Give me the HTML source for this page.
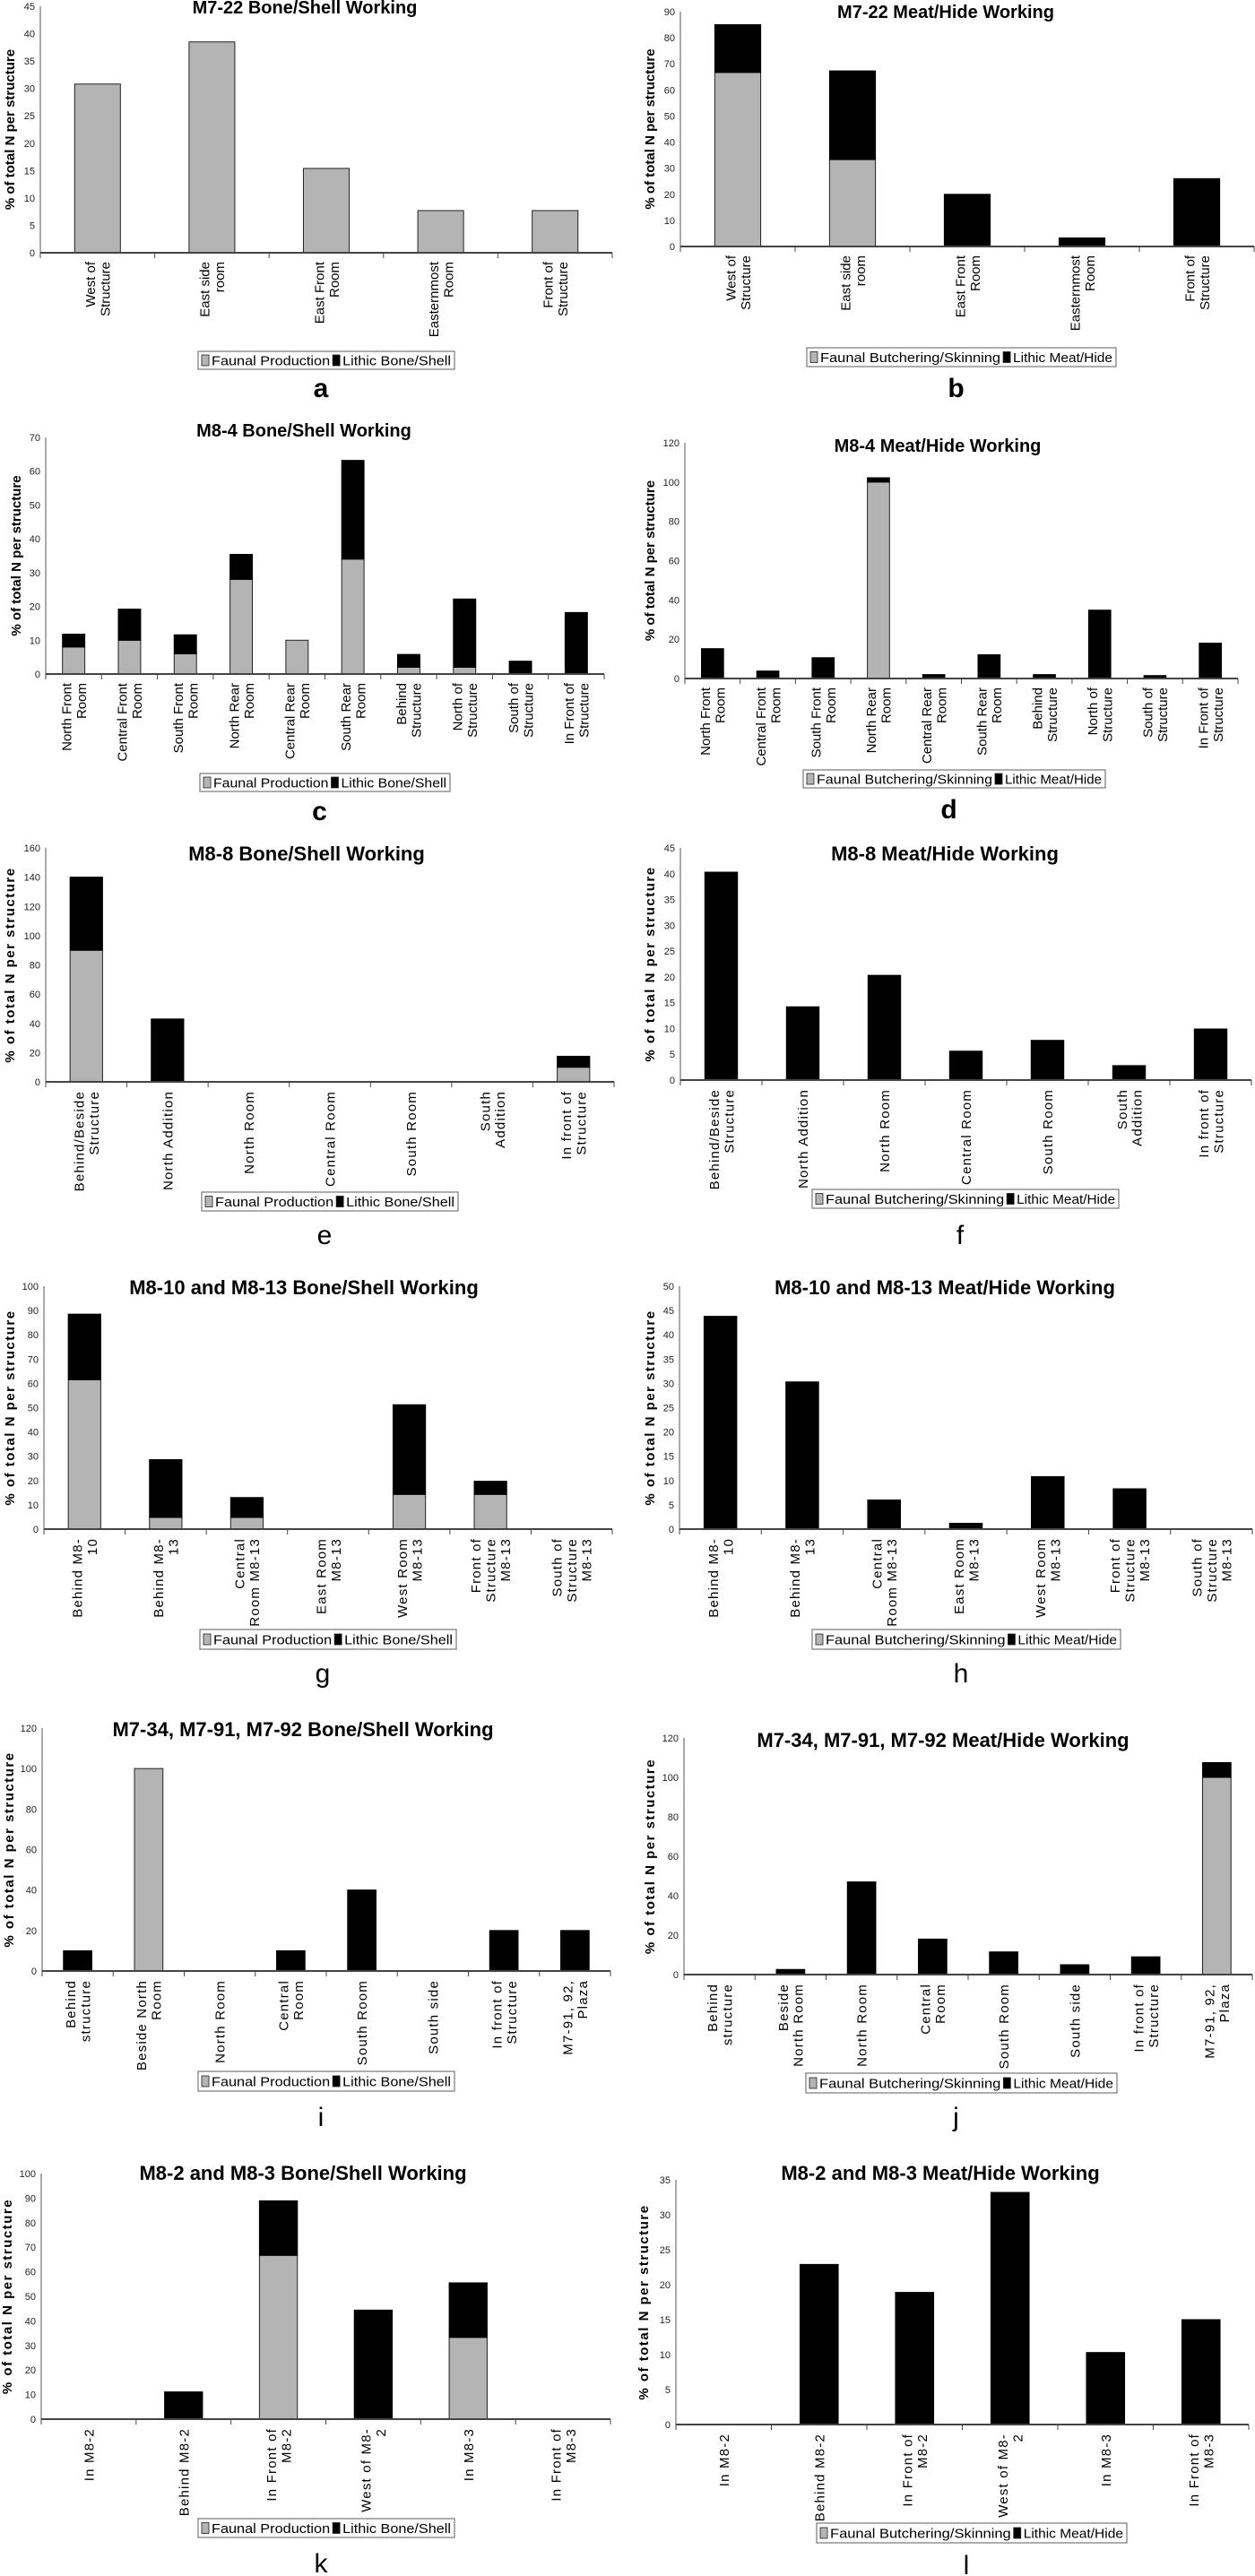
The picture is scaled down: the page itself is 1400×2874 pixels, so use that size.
<!DOCTYPE html>
<html><head><meta charset="utf-8"><title>Bone/Shell and Meat/Hide Working charts</title>
<style>
html,body{margin:0;padding:0;background:#fff;}
svg{display:block;}
text{font-family:"Liberation Sans",Arial,sans-serif;}
</style></head>
<body>
<svg id="fig" width="1400" height="2874" viewBox="0 0 1400 2874" xmlns="http://www.w3.org/2000/svg"></svg>
<script>
// ---------- DATA ----------
const catsA = ["West of|Structure","East side|room","East Front|Room","Easternmost|Room","Front of|Structure"];
const faunalA = [30.8,38.5,15.4,7.7,7.7];
const lithicA = [0,0,0,0,0];
const ticksA = [0,5,10,15,20,25,30,35,40,45];

const catsB = ["West of|Structure","East side|room","East Front|Room","Easternmost|Room","Front of|Structure"];
const faunalB = [66.7,33.3,0,0,0];
const lithicB = [18.3,34,20,3.3,26];
const ticksB = [0,10,20,30,40,50,60,70,80,90];

const catsC = ["North Front|Room","Central Front|Room","South Front|Room","North Rear|Room","Central Rear|Room","South Rear|Room","Behind|Structure","North of|Structure","South of|Structure","In Front of|Structure"];
const faunalC = [8,10,6,28,10,34,2,2,0,0];
const lithicC = [3.8,9.2,5.6,7.4,0,29.2,3.8,20.2,3.8,18.2];
const ticksC = [0,10,20,30,40,50,60,70];

const catsD = ["North Front|Room","Central Front|Room","South Front|Room","North Rear|Room","Central Rear|Room","South Rear|Room","Behind|Structure","North of|Structure","South of|Structure","In Front of|Structure"];
const faunalD = [0,0,0,100,0,0,0,0,0,0];
const lithicD = [15.2,3.8,10.6,2.2,2,12.1,2,34.8,1.5,18];
const ticksD = [0,20,40,60,80,100,120];

const catsE = ["Behind/Beside|Structure","North Addition","North Room","Central Room","South Room","South|Addition","In front of|Structure"];
const faunalE = [90,0,0,0,0,0,10];
const lithicE = [50,43,0,0,0,0,7.5];
const ticksE = [0,20,40,60,80,100,120,140,160];

const catsF = ["Behind/Beside|Structure","North Addition","North Room","Central Room","South Room","South|Addition","In front of|Structure"];
const faunalF = [0,0,0,0,0,0,0];
const lithicF = [40.3,14.2,20.3,5.6,7.7,2.8,9.9];
const ticksF = [0,5,10,15,20,25,30,35,40,45];

const catsG = ["Behind M8-|10","Behind M8-|13","Central|Room M8-13","East Room|M8-13","West Room|M8-13","Front of|Structure|M8-13","South of|Structure|M8-13"];
const faunalG = [61.5,4.8,4.8,0,14.3,14.3,0];
const lithicG = [27,23.8,8.2,0,36.9,5.4,0];
const ticksG = [0,10,20,30,40,50,60,70,80,90,100];

const catsH = ["Behind M8-|10","Behind M8-|13","Central|Room M8-13","East Room|M8-13","West Room|M8-13","Front of|Structure|M8-13","South of|Structure|M8-13"];
const faunalH = [0,0,0,0,0,0,0];
const lithicH = [43.8,30.3,6,1.2,10.8,8.3,0];
const ticksH = [0,5,10,15,20,25,30,35,40,45,50];

const catsI = ["Behind|structure","Beside North|Room","North Room","Central|Room","South Room","South side","In front of|Structure","M7-91, 92,|Plaza"];
const faunalI = [0,100,0,0,0,0,0,0];
const lithicI = [10,0,0,10,40,0,20,20];
const ticksI = [0,20,40,60,80,100,120];

const catsJ = ["Behind|structure","Beside|North Room","North Room","Central|Room","South Room","South side","In front of|Structure","M7-91, 92,|Plaza"];
const faunalJ = [0,0,0,0,0,0,0,100];
const lithicJ = [0,2.6,47,18,11.5,5,9,7.5];
const ticksJ = [0,20,40,60,80,100,120];

const catsK = ["In M8-2","Behind M8-2","In Front of|M8-2","West of M8-|2","In M8-3","In Front of|M8-3"];
const faunalK = [0,0,66.7,0,33.3,0];
const lithicK = [0,11.1,22.2,44.4,22.2,0];
const ticksK = [0,10,20,30,40,50,60,70,80,90,100];

const catsL = ["In M8-2","Behind M8-2","In Front of|M8-2","West of M8-|2","In M8-3","In Front of|M8-3"];
const faunalL = [0,0,0,0,0,0];
const lithicL = [0,22.9,18.9,33.2,10.3,15];
const ticksL = [0,5,10,15,20,25,30,35];

// ---------- LAYOUT ----------
const NS = "http://www.w3.org/2000/svg";
const svg = document.getElementById("fig");
function mk(tag, attrs, parent){
  const e = document.createElementNS(NS, tag);
  for (const k in attrs) e.setAttribute(k, attrs[k]);
  (parent||svg).appendChild(e);
  return e;
}
const panels = [
 {id:"a", title:"M7-22 Bone/Shell Working", cats:catsA, f:faunalA, l:lithicA, ticks:ticksA, L:45,R:683,T:7,Z:282, tx:340,ty:8, yx:11, lg:[221,507,392,412], ly:433, kind:"bone", narrow:false},
 {id:"b", title:"M7-22 Meat/Hide Working", cats:catsB, f:faunalB, l:lithicB, ticks:ticksB, L:759,R:1399,T:13,Z:275, tx:1055,ty:13, yx:725, lg:[900,1245,388,409], ly:433, kind:"meat", narrow:false},
 {id:"c", title:"M8-4 Bone/Shell Working", cats:catsC, f:faunalC, l:lithicC, ticks:ticksC, L:51,R:674,T:488,Z:752, tx:339,ty:480, yx:18, lg:[223,502,863,883], ly:905, kind:"bone", narrow:false},
 {id:"d", title:"M8-4 Meat/Hide Working", cats:catsD, f:faunalD, l:lithicD, ticks:ticksD, L:764,R:1381,T:494,Z:757, tx:1046,ty:497, yx:725, lg:[896,1233,859,879], ly:903, kind:"meat", narrow:false},
 {id:"e", title:"M8-8 Bone/Shell Working", cats:catsE, f:faunalE, l:lithicE, ticks:ticksE, L:51,R:685,T:946,Z:1207, tx:342,ty:953, yx:11, lg:[225,511,1330,1351], ly:1378, kind:"bone", narrow:true},
 {id:"f", title:"M8-8 Meat/Hide Working", cats:catsF, f:faunalF, l:lithicF, ticks:ticksF, L:759,R:1396,T:946,Z:1205, tx:1054,ty:953, yx:725, lg:[906,1248,1327,1348], ly:1378, kind:"meat", narrow:true},
 {id:"g", title:"M8-10 and M8-13 Bone/Shell Working", cats:catsG, f:faunalG, l:lithicG, ticks:ticksG, L:49,R:683,T:1435,Z:1706, tx:339,ty:1437, yx:11, lg:[223,509,1818,1840], ly:1867, kind:"bone", narrow:true},
 {id:"h", title:"M8-10 and M8-13 Meat/Hide Working", cats:catsH, f:faunalH, l:lithicH, ticks:ticksH, L:758,R:1397,T:1435,Z:1706, tx:1054,ty:1437, yx:725, lg:[906,1250,1818,1840], ly:1867, kind:"meat", narrow:true},
 {id:"i", title:"M7-34, M7-91, M7-92 Bone/Shell Working", cats:catsI, f:faunalI, l:lithicI, ticks:ticksI, L:47,R:681,T:1928,Z:2199, tx:338,ty:1930, yx:10, lg:[221,507,2311,2333], ly:2362, kind:"bone", narrow:true},
 {id:"j", title:"M7-34, M7-91, M7-92 Meat/Hide Working", cats:catsJ, f:faunalJ, l:lithicJ, ticks:ticksJ, L:763,R:1397,T:1939,Z:2203, tx:1052,ty:1942, yx:725, lg:[899,1246,2313,2335], ly:2362, kind:"meat", narrow:true},
 {id:"k", title:"M8-2 and M8-3 Bone/Shell Working", cats:catsK, f:faunalK, l:lithicK, ticks:ticksK, L:46,R:681,T:2425,Z:2699, tx:338,ty:2425, yx:8, lg:[221,507,2810,2831], ly:2860, kind:"bone", narrow:true},
 {id:"l", title:"M8-2 and M8-3 Meat/Hide Working", cats:catsL, f:faunalL, l:lithicL, ticks:ticksL, L:754,R:1393,T:2432,Z:2705, tx:1049,ty:2425, yx:718, lg:[911,1257,2815,2837], ly:2862, kind:"meat", narrow:true}
];
const NARROW = '"Liberation Sans Narrow","Liberation Sans",Arial,sans-serif';

panels.forEach(p => {
  const g = mk("g", {});
  
  
  const maxV = p.ticks[p.ticks.length-1];
  const y = v => p.Z - (v/maxV)*(p.Z - p.T);
  const n = p.cats.length;
  const cw = (p.R - p.L)/n;
  const xc = i => p.L + cw*(i+0.5);
  const bw = cw*0.4;

  // title
  const t = mk("text", {x:p.tx, y:p.ty+7, "text-anchor":"middle", "font-weight":"bold", "font-size": p.narrow?22:20}, g);
  if (p.narrow) t.setAttribute("style", "font-family:"+NARROW);
  
  
  t.textContent = p.title;

  // y axis title
  const ym = (p.T + p.Z)/2;
  const yt = mk("text", {x:p.yx+5, y:ym, "text-anchor":"middle", "font-weight":"bold", "font-size":15, transform:`rotate(-90 ${p.yx+5} ${ym})`}, g);
  if (p.narrow) yt.setAttribute("letter-spacing", "1.5");
  
  
  yt.textContent = "% of total N per structure";

  // y ticks
  p.ticks.forEach(tv => {
    const tl = mk("text", {x:p.L-6, y:y(tv)+4, "text-anchor":"end", "font-size":11, fill:"#222", style:"font-family:"+NARROW}, g);
    
    
    tl.textContent = tv;
  });
  // y axis
  const ya = mk("line", {x1:p.L, y1:p.T, x2:p.L, y2:p.Z+6, stroke:"#555", "stroke-width":1}, g);
  
  

  // bars
  for (let i=0;i<n;i++){
    const fv = p.f[i], lv = p.l[i];
    if (fv > 0){
      const r = mk("rect", {x:xc(i)-bw/2, y:y(fv), width:bw, height:y(0)-y(fv), fill:"#b4b4b4", stroke:"#222", "stroke-width":1}, g);
      
      
    }
    if (lv > 0){
      const r = mk("rect", {x:xc(i)-bw/2, y:y(fv+lv), width:bw, height:y(fv)-y(fv+lv), fill:"#000", stroke:"#000", "stroke-width":1}, g);
      
      
    }
  }

  // x axis
  const xa = mk("line", {x1:p.L, y1:p.Z, x2:p.R, y2:p.Z, stroke:"#444", "stroke-width":2}, g);
  
  
  for (let i=0;i<=n;i++){
    const xt = p.L + cw*i;
    const tk = mk("line", {x1:xt, y1:p.Z, x2:xt, y2:p.Z+6, stroke:"#444", "stroke-width":1}, g);
    
    
  }
  // category labels
  for (let i=0;i<n;i++){
    const lines = p.cats[i].split("|");
    lines.forEach((ln, j) => {
      const bx = xc(i) + (j - (lines.length-1)/2)*16.5 + 5.5;
      const by = p.Z + 10;
      const tl = mk("text", {x:bx, y:by, "text-anchor":"end", "font-size":15, transform:`rotate(-90 ${bx} ${by})`}, g);
      if (p.narrow) tl.setAttribute("letter-spacing", "1.2");
      
      
      tl.textContent = ln;
    });
  }

  // legend
  const [x1,x2,y1,y2] = p.lg;
  const lgG = mk("g", {}, g);
  
  
  mk("rect", {x:x1, y:y1, width:x2-x1, height:y2-y1, fill:"#fff", stroke:"#777", "stroke-width":1.2}, lgG);
  const w = x2-x1, cy = (y1+y2)/2;
  const split = p.kind==="bone" ? 0.525 : 0.635;
  const names = p.kind==="bone" ? ["Faunal Production","Lithic Bone/Shell"] : ["Faunal Butchering/Skinning","Lithic Meat/Hide"];
  const sx = [x1+4, x1+w*split];
  const ex = [x1+w*split-3, x2-4];
  [0,1].forEach(k => {
    const sw = mk("rect", {x:sx[k], y:cy-6, width:8, height:12, fill:k?"#000":"#b4b4b4", stroke:"#222", "stroke-width":0.8}, lgG);
    
    
    const lt = mk("text", {x:sx[k]+11, y:cy+5.5, "font-size":15, textLength:(ex[k]-sx[k]-11), lengthAdjust:"spacingAndGlyphs", style:"font-family:"+NARROW}, lgG);
    
    
    lt.textContent = names[k];
  });

  // panel letter
  const lx = (x1+x2)/2 - 6;
  const le = mk("text", {x:lx, y:p.ly+10, "text-anchor":"middle", "font-weight":"bold", "font-size":30}, g);
  if (p.narrow) le.setAttribute("style", "font-family:"+NARROW+";font-weight:normal");
  
  
  le.textContent = p.id;
});
</script>
</body></html>
